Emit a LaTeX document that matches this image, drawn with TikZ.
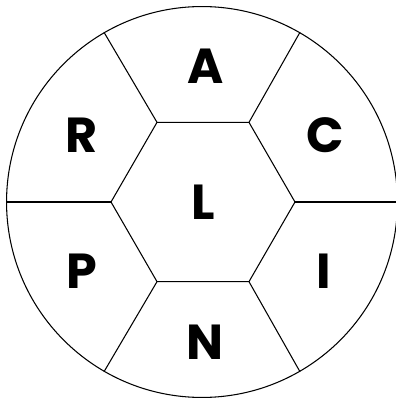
\documentclass[tikz,border=0pt]{standalone}
\usepackage{fontspec}
\newfontfamily\letterfont{Poppins}
\usetikzlibrary{shapes.geometric}

\begin{document}
\begin{tikzpicture}[x=0.02cm, y=0.02cm, line width=0.6pt,
    letter/.style={font=\letterfont\bfseries\fontsize{28}{30}\selectfont, inner sep=0pt}]
        \useasboundingbox (0,0) rectangle (396,400);
        % outer ring and hexagon
        \node[draw, circle, minimum size=7.82cm, inner sep=0pt] (ring) at (202,198) {};
        \node[draw, regular polygon, regular polygon sides=6, minimum size=3.68cm,
              inner sep=0pt, outer sep=0pt, letter] (hex) at (203,198) {L};
        % spokes from the hexagon to the ring
        \foreach \k/\a in {1/60,2/120,3/180,4/240,5/300,6/0} {
          \draw (hex.corner \k) -- (ring.\a);
        }
        % letters of the outer cells
        \foreach \n/\t/\x/\y in {a/A/206/334, c/C/325/265, r/R/82/265,
                                 p/P/82/129, i/I/324/129, n/N/205/58} {
          \node[letter] (\n) at (\x,\y) {\t};
        }
      \end{tikzpicture}
\end{document}
